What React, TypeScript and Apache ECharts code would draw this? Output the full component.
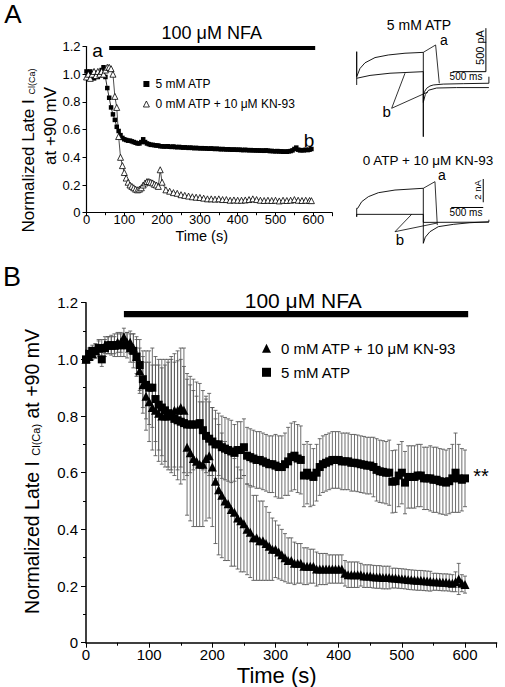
import React, { useEffect, useRef } from "react";
import * as echarts from "echarts";

const FONT = '"Liberation Sans", Arial, Helvetica, sans-serif';

// ---------------- Panel A: single-cell time course ----------------
const timeA_sq = Array.from({ length: 120 }, (_, i) => i * 5); // sampling every 5 s
const atpA = [
  1.02, 0.97, 1.02, 1.0, 0.97, 1.01, 0.98, 1.0, 1.03, 1.05, 0.98, 0.9, 0.83, 0.76, 0.71, 0.67, 0.62, 0.59, 0.56, 0.54,
  0.53, 0.525, 0.52, 0.52, 0.515, 0.51, 0.505, 0.5, 0.5, 0.51, 0.53, 0.51, 0.5, 0.495, 0.49, 0.49, 0.487, 0.485, 0.485, 0.48,
  0.48, 0.478, 0.478, 0.48, 0.476, 0.475, 0.478, 0.474, 0.473, 0.475, 0.472, 0.47, 0.472, 0.47, 0.468, 0.47, 0.468, 0.466, 0.468, 0.466,
  0.465, 0.466, 0.464, 0.465, 0.463, 0.462, 0.464, 0.462, 0.46, 0.462, 0.46, 0.458, 0.46, 0.458, 0.457, 0.458, 0.456, 0.455, 0.456, 0.455,
  0.454, 0.455, 0.453, 0.452, 0.454, 0.452, 0.451, 0.452, 0.45, 0.451, 0.449, 0.45, 0.448, 0.449, 0.447, 0.45, 0.448, 0.445, 0.446, 0.444,
  0.443, 0.445, 0.442, 0.443, 0.44, 0.442, 0.44, 0.443, 0.445, 0.45, 0.46, 0.47, 0.455, 0.45, 0.452, 0.45, 0.455, 0.452, 0.455, 0.46,
];
const timeA_tri = [
  0, 5, 10, 15, 20, 25, 30, 35, 40, 45, 50, 55, 60, 65, 70, 75, 80, 85, 90, 95, 100, 105, 110, 115, 120, 125, 130, 135, 140, 145,
  150, 155, 160, 165, 170, 175, 180, 185, 190, 195, 200, 210, 220, 230, 240, 250, 260, 270, 280, 290, 300, 310, 320, 330, 340,
  350, 360, 370, 380, 390, 400, 410, 420, 430, 440, 450, 460, 470, 480, 490, 500, 510, 520, 530, 540, 550, 560, 570, 580, 590, 595,
];
const kn93A = [
  0.98, 1.0, 0.97, 1.0, 1.02, 0.99, 1.02, 1.0, 1.02, 1.0, 1.03, 1.05, 1.05, 1.04, 1.0, 0.84, 0.76, 0.55, 0.4, 0.34, 0.29, 0.25,
  0.22, 0.2, 0.19, 0.18, 0.17, 0.165, 0.17, 0.18, 0.2, 0.215, 0.225, 0.225, 0.22, 0.215, 0.205, 0.2, 0.19, 0.31, 0.22,
  0.165, 0.155, 0.145, 0.14, 0.13, 0.125, 0.12, 0.115, 0.112, 0.11, 0.105, 0.1, 0.1, 0.098, 0.1, 0.095, 0.095, 0.09, 0.092, 0.09,
  0.09, 0.092, 0.095, 0.1, 0.095, 0.09, 0.088, 0.09, 0.088, 0.09, 0.085, 0.09, 0.088, 0.09, 0.095, 0.09, 0.088, 0.09, 0.088, 0.087,
];

// NFA application period (s)
const nfaStart = 60;
const nfaEnd = 605;

// ---------------- Panel B: mean +/- SEM ----------------
const timeB = Array.from({ length: 121 }, (_, i) => i * 5);
const kn93B = [
  1.0, 1.01, 1.02, 1.03, 1.04, 1.04, 1.05, 1.05, 1.05, 1.05, 1.06, 1.06, 1.08, 1.06, 1.06, 1.04, 1.01, 0.96, 0.91, 0.87,
  0.85, 0.83, 0.82, 0.81, 0.8, 0.8, 0.8, 0.81, 0.82, 0.82, 0.83, 0.82, 0.69, 0.67, 0.65, 0.64, 0.63, 0.63, 0.65, 0.66,
  0.62, 0.57, 0.54, 0.52, 0.5, 0.49, 0.47, 0.46, 0.44, 0.43, 0.42, 0.4, 0.39, 0.37, 0.37, 0.36, 0.36, 0.35, 0.34, 0.33,
  0.33, 0.32, 0.31, 0.3, 0.29, 0.29, 0.28, 0.28, 0.28, 0.27, 0.27, 0.27, 0.27, 0.26, 0.26, 0.26, 0.26, 0.26, 0.26, 0.26,
  0.26, 0.26, 0.245, 0.24, 0.24, 0.24, 0.24, 0.24, 0.235, 0.235, 0.235, 0.233, 0.232, 0.232, 0.23, 0.23, 0.23, 0.228, 0.228, 0.227,
  0.226, 0.225, 0.223, 0.222, 0.221, 0.22, 0.22, 0.219, 0.218, 0.217, 0.215, 0.215, 0.214, 0.213, 0.213, 0.212, 0.21, 0.215, 0.225, 0.21,
  0.205,
];
const kn93B_sem = [
  0, 0.02, 0.02, 0.025, 0.025, 0.03, 0.03, 0.03, 0.03, 0.03, 0.035, 0.035, 0.03, 0.035, 0.04, 0.05, 0.06, 0.08, 0.1, 0.12,
  0.14, 0.15, 0.16, 0.17, 0.17, 0.18, 0.19, 0.2, 0.2, 0.21, 0.21, 0.22, 0.24, 0.24, 0.24, 0.23, 0.22, 0.22, 0.22, 0.22,
  0.21, 0.22, 0.23, 0.22, 0.21, 0.2, 0.2, 0.19, 0.18, 0.18, 0.17, 0.16, 0.16, 0.15, 0.15, 0.14, 0.14, 0.13, 0.12, 0.11,
  0.1, 0.095, 0.09, 0.085, 0.08, 0.08, 0.075, 0.07, 0.07, 0.065, 0.065, 0.06, 0.06, 0.06, 0.055, 0.055, 0.055, 0.05, 0.05, 0.05,
  0.05, 0.05, 0.045, 0.045, 0.045, 0.045, 0.045, 0.04, 0.04, 0.04, 0.04, 0.04, 0.04, 0.04, 0.04, 0.04, 0.04, 0.035, 0.035, 0.035,
  0.035, 0.035, 0.035, 0.035, 0.035, 0.035, 0.035, 0.035, 0.035, 0.035, 0.03, 0.03, 0.03, 0.03, 0.03, 0.03, 0.03, 0.035, 0.055, 0.03,
  0.03,
];
const atpB = [
  1.0, 1.02, 1.03, 1.03, 1.04, 1.0, 1.04, 1.05, 1.05, 1.05, 1.05, 1.05, 1.05, 1.05, 1.04, 1.03, 1.01, 0.98, 0.93, 0.91,
  0.9, 0.9, 0.86, 0.84, 0.83, 0.82, 0.81, 0.8, 0.79, 0.785, 0.78, 0.775, 0.77, 0.77, 0.77, 0.77, 0.775, 0.75, 0.73, 0.72,
  0.71, 0.7, 0.7, 0.69, 0.685, 0.68, 0.675, 0.67, 0.68, 0.68, 0.69, 0.66, 0.655, 0.65, 0.645, 0.645, 0.64, 0.635, 0.63, 0.63,
  0.625, 0.62, 0.62, 0.63, 0.64, 0.655, 0.66, 0.65, 0.645, 0.59, 0.6, 0.59, 0.585, 0.6, 0.62, 0.63, 0.635, 0.64, 0.645, 0.645,
  0.645, 0.64, 0.64, 0.64, 0.635, 0.635, 0.633, 0.63, 0.628, 0.625, 0.625, 0.62, 0.61, 0.605, 0.603, 0.6, 0.6, 0.568, 0.57, 0.59,
  0.6, 0.565, 0.585, 0.585, 0.585, 0.59, 0.59, 0.58, 0.58, 0.58, 0.575, 0.575, 0.57, 0.568, 0.565, 0.57, 0.58, 0.6, 0.58, 0.575,
  0.58,
];
const atpB_sem = [
  0, 0.02, 0.02, 0.025, 0.03, 0.025, 0.03, 0.03, 0.035, 0.04, 0.04, 0.04, 0.04, 0.045, 0.05, 0.06, 0.07, 0.09, 0.1, 0.12,
  0.13, 0.14, 0.15, 0.16, 0.17, 0.18, 0.19, 0.2, 0.2, 0.21, 0.22, 0.2, 0.18, 0.17, 0.16, 0.15, 0.14, 0.14, 0.13, 0.13,
  0.12, 0.12, 0.11, 0.11, 0.11, 0.11, 0.11, 0.1, 0.1, 0.1, 0.1, 0.1, 0.1, 0.1, 0.1, 0.1, 0.1, 0.1, 0.1, 0.1,
  0.11, 0.11, 0.11, 0.11, 0.12, 0.12, 0.12, 0.12, 0.12, 0.11, 0.11, 0.11, 0.1, 0.1, 0.1, 0.1, 0.1, 0.1, 0.1, 0.1,
  0.1, 0.1, 0.1, 0.1, 0.1, 0.1, 0.1, 0.1, 0.1, 0.1, 0.1, 0.105, 0.11, 0.11, 0.11, 0.11, 0.115, 0.11, 0.11, 0.11,
  0.11, 0.11, 0.11, 0.11, 0.11, 0.11, 0.11, 0.11, 0.11, 0.115, 0.115, 0.115, 0.115, 0.115, 0.115, 0.115, 0.12, 0.14, 0.12, 0.11,
  0.1,
];

// ---------------- Current traces (ms, pA) ----------------
// 5 mM ATP
const tr1a_t = [0, 0, 0, 50, 125, 275, 475, 725, 1000, 1000, 1000, 1020, 1050, 1100, 1150, 1300, 1600, 1985, 1985];
const tr1a_pA = [0, 383, 95, 190, 255, 315, 345, 365, 375, -595, -115, -75, -38, -12, 0, 10, 15, 20, 95];
const tr1b_t = [0, 200, 500, 1000, 1000, 1030, 1080, 1200, 1500, 1985];
const tr1b_pA = [77, 110, 135, 153, -200, -110, -60, -35, -30, -30];
const tr1PtrA_t = [1000, 1185, 1240];
const tr1PtrA_pA = [375, 460, 20];
const tr1PtrB_t = [725, 525, 1070];
const tr1PtrB_pA = [135, -268, -80];
const tr1Scale_t = [1440, 1940, 1940];
const tr1Scale_pA = [153, 153, 653];
// 0 ATP + 10 uM KN-93
const tr2a_t = [0, 0, 15, 75, 175, 325, 575, 1000, 1000, 1030, 1100, 1225, 1450, 1700, 1985, 1985];
const tr2a_pA = [455, 1180, 1180, 1750, 2180, 2520, 2750, 2900, -1830, -1300, -830, -400, -200, -60, 20, 200];
const tr2b_t = [0, 0, 1000, 1000, 1985];
const tr2b_pA = [455, 660, 660, -30, -10];
const tr2PtrA_t = [1000, 1175, 1210];
const tr2PtrA_pA = [2900, 3470, -260];
const tr2PtrB_t = [825, 575, 1205];
const tr2PtrB_pA = [660, -830, -90];
const tr2ScaleH_t = [1420, 1900];
const tr2ScaleH_pA = [1250, 1250];
const tr2ScaleV_t = [1900, 1900];
const tr2ScaleV_pA = [1700, 3700];

const pairs = (xs: number[], ys: number[]) => xs.map((x, i) => [x, ys[i]]);
const triples = (xs: number[], ys: number[], es: number[]) => xs.map((x, i) => [x, ys[i], es[i]]);

const txt = (text: string, x: number, y: number, fontSize: number, extra: any = {}, lh?: number) => ({
  type: "text",
  x,
  y,
  silent: true,
  ...extra,
  style: {
    text,
    fontSize,
    lineHeight: lh ?? Math.round(fontSize * 0.9),
    fontFamily: FONT,
    fill: "#000",
    align: "center",
    verticalAlign: "middle",
  },
});

const yFmt = (v: number) => (Math.abs(v) < 1e-9 ? "0" : v.toFixed(1));

const errorBarRender = (params: any, api: any) => {
  const t = api.value(0);
  const m = api.value(1);
  const s = api.value(2);
  const hi = api.coord([t, m + s]);
  const lo = api.coord([t, m - s]);
  const w = 2;
  const st = { stroke: "#555", lineWidth: 0.85 };
  return {
    type: "group",
    children: [
      { type: "line", shape: { x1: hi[0], y1: hi[1], x2: lo[0], y2: lo[1] }, style: st },
      { type: "line", shape: { x1: hi[0] - w, y1: hi[1], x2: hi[0] + w, y2: hi[1] }, style: st },
      { type: "line", shape: { x1: lo[0] - w, y1: lo[1], x2: lo[0] + w, y2: lo[1] }, style: st },
    ],
  };
};

const traceLine = (name: string, xi: number, data: number[][], width = 0.9) => ({
  type: "line",
  name,
  xAxisIndex: xi,
  yAxisIndex: xi,
  data,
  symbol: "none",
  clip: false,
  silent: true,
  lineStyle: { color: "#000", width },
});

export default function App() {
  const ref = useRef<HTMLDivElement>(null);
  useEffect(() => {
    if (!ref.current) return;
    const chart = echarts.init(ref.current, undefined, { renderer: "svg" });
    const axisCommon = {
      type: "value",
      splitLine: { show: false },
      axisLine: { show: true, onZero: false, lineStyle: { color: "#000", width: 1.2 } },
      axisTick: { show: true, inside: false, lineStyle: { color: "#000", width: 1 } },
    };
    const hidden = { type: "value", show: false, splitLine: { show: false } };

    const option: any = {
      animation: false,
      textStyle: { fontFamily: FONT },
      grid: [
        { left: 86.5, top: 46.5, width: 245.7, height: 166.2 },
        { left: 86, top: 302.7, width: 410.6, height: 340 },
        { left: 356.7, top: 24.1, width: 133.2, height: 117.4 },
        { left: 356.7, top: 175.5, width: 133.2, height: 69.8 },
      ],
      xAxis: [
        {
          ...axisCommon,
          gridIndex: 0,
          min: 0,
          max: 650,
          interval: 100,
          axisTick: { ...axisCommon.axisTick, length: 3.5 },
          minorTick: { show: true, splitNumber: 2, length: 2.5, lineStyle: { color: "#000" } },
          axisLabel: { color: "#000", fontSize: 13, lineHeight: 12, margin: 1, fontFamily: FONT, showMaxLabel: false },
        },
        {
          ...axisCommon,
          gridIndex: 1,
          min: 0,
          max: 650,
          interval: 100,
          axisLine: { ...axisCommon.axisLine, lineStyle: { color: "#000", width: 1.5 } },
          axisTick: { ...axisCommon.axisTick, length: 5 },
          minorTick: { show: true, splitNumber: 2, length: 3, lineStyle: { color: "#000" } },
          axisLabel: { color: "#000", fontSize: 15, lineHeight: 14, margin: 5, fontFamily: FONT, showMaxLabel: false },
        },
        { ...hidden, gridIndex: 2, min: 0, max: 2000 },
        { ...hidden, gridIndex: 3, min: 0, max: 2000 },
      ],
      yAxis: [
        {
          ...axisCommon,
          gridIndex: 0,
          min: 0,
          max: 1.2,
          interval: 0.2,
          axisTick: { ...axisCommon.axisTick, length: 4 },
          axisLabel: { color: "#000", fontSize: 13, lineHeight: 12, margin: 6, fontFamily: FONT, formatter: yFmt },
        },
        {
          ...axisCommon,
          gridIndex: 1,
          min: 0,
          max: 1.2,
          interval: 0.2,
          axisLine: { ...axisCommon.axisLine, lineStyle: { color: "#000", width: 1.5 } },
          axisTick: { ...axisCommon.axisTick, length: 5 },
          minorTick: { show: true, splitNumber: 2, length: 3, lineStyle: { color: "#000" } },
          axisLabel: { color: "#000", fontSize: 15, lineHeight: 14, margin: 8, fontFamily: FONT, formatter: yFmt },
        },
        { ...hidden, gridIndex: 2, min: -650, max: 700 },
        { ...hidden, gridIndex: 3, min: -2000, max: 4000 },
      ],
      legend: [
        {
          data: [
            { name: "5 mM ATP", icon: "rect", itemStyle: { color: "#000" } },
            {
              name: "0 mM ATP + 10 μM KN-93",
              icon: "triangle",
              itemStyle: { color: "#fff", borderColor: "#000", borderWidth: 0.8 },
            },
          ],
          orient: "vertical",
          left: 138,
          top: 73,
          itemWidth: 6,
          itemHeight: 6,
          itemGap: 8,
          selectedMode: false,
          formatter: (n: string) => n.trim(),
          textStyle: { fontSize: 12, lineHeight: 12, color: "#000", fontFamily: FONT, padding: [0, 0, 0, 1] },
        },
        {
          data: [
            { name: "0 mM ATP + 10 μM KN-93 ", icon: "triangle", itemStyle: { color: "#000" } },
            { name: "5 mM ATP ", icon: "rect", itemStyle: { color: "#000" } },
          ],
          orient: "vertical",
          left: 257,
          top: 335.8,
          itemWidth: 9,
          itemHeight: 9,
          itemGap: 9,
          selectedMode: false,
          formatter: (n: string) => n.trim(),
          textStyle: { fontSize: 15, lineHeight: 15, color: "#000", fontFamily: FONT, padding: [0, 0, 0, 5] },
        },
      ],
      series: [
        // Panel A
        {
          type: "line",
          name: "nfaA",
          xAxisIndex: 0,
          yAxisIndex: 0,
          data: [
            [nfaStart, 1.19],
            [nfaEnd, 1.19],
          ],
          symbol: "none",
          clip: false,
          silent: true,
          lineStyle: { color: "#000", width: 4 },
        },
        {
          type: "line",
          name: "5 mM ATP",
          xAxisIndex: 0,
          yAxisIndex: 0,
          data: pairs(timeA_sq, atpA),
          symbol: "rect",
          symbolSize: 4.5,
          showAllSymbol: true,
          itemStyle: { color: "#000" },
          lineStyle: { color: "#000", width: 0.8 },
          z: 3,
        },
        {
          type: "line",
          name: "0 mM ATP + 10 μM KN-93",
          xAxisIndex: 0,
          yAxisIndex: 0,
          data: pairs(timeA_tri, kn93A),
          symbol: "triangle",
          symbolSize: 6,
          showAllSymbol: true,
          itemStyle: { color: "#fff", borderColor: "#000", borderWidth: 0.8 },
          lineStyle: { color: "#000", width: 0.7 },
          z: 4,
        },
        // Panel B
        {
          type: "line",
          name: "nfaB",
          xAxisIndex: 1,
          yAxisIndex: 1,
          data: [
            [nfaStart, 1.16],
            [nfaEnd, 1.16],
          ],
          symbol: "none",
          clip: false,
          silent: true,
          lineStyle: { color: "#000", width: 6.3 },
        },
        {
          type: "custom",
          name: "semKN",
          xAxisIndex: 1,
          yAxisIndex: 1,
          data: triples(timeB, kn93B, kn93B_sem),
          encode: { x: 0, y: 1 },
          renderItem: errorBarRender,
          silent: true,
          z: 1,
        },
        {
          type: "custom",
          name: "semATP",
          xAxisIndex: 1,
          yAxisIndex: 1,
          data: triples(timeB, atpB, atpB_sem),
          encode: { x: 0, y: 1 },
          renderItem: errorBarRender,
          silent: true,
          z: 1,
        },
        {
          type: "scatter",
          name: "5 mM ATP ",
          xAxisIndex: 1,
          yAxisIndex: 1,
          data: pairs(timeB, atpB),
          symbol: "rect",
          symbolSize: 8,
          itemStyle: { color: "#000", opacity: 1 },
          z: 3,
        },
        {
          type: "scatter",
          name: "0 mM ATP + 10 μM KN-93 ",
          xAxisIndex: 1,
          yAxisIndex: 1,
          data: pairs(timeB, kn93B),
          symbol: "triangle",
          symbolSize: 9,
          itemStyle: { color: "#000", opacity: 1 },
          z: 4,
        },
        // Traces
        traceLine("tr1a", 2, pairs(tr1a_t, tr1a_pA)),
        traceLine("tr1b", 2, pairs(tr1b_t, tr1b_pA)),
        traceLine("tr1pa", 2, pairs(tr1PtrA_t, tr1PtrA_pA), 0.8),
        traceLine("tr1pb", 2, pairs(tr1PtrB_t, tr1PtrB_pA), 0.8),
        traceLine("tr1s", 2, pairs(tr1Scale_t, tr1Scale_pA), 1),
        traceLine("tr2a", 3, pairs(tr2a_t, tr2a_pA)),
        traceLine("tr2b", 3, pairs(tr2b_t, tr2b_pA)),
        traceLine("tr2pa", 3, pairs(tr2PtrA_t, tr2PtrA_pA), 0.8),
        traceLine("tr2pb", 3, pairs(tr2PtrB_t, tr2PtrB_pA), 0.8),
        traceLine("tr2sh", 3, pairs(tr2ScaleH_t, tr2ScaleH_pA), 1),
        traceLine("tr2sv", 3, pairs(tr2ScaleV_t, tr2ScaleV_pA), 1),
      ],
      graphic: [
        txt("A", 13, 14, 26),
        txt("B", 12, 277, 27),
        txt("100 μM NFA", 211.7, 33, 18),
        txt("100 μM NFA", 303.3, 300, 21, {}, 17),
        txt("a", 97.5, 50.5, 19, {}, 14),
        txt("b", 309, 140, 19, {}, 16),
        txt("Time (s)", 201.7, 235.5, 14.5, {}, 12),
        txt("Time (s)", 276.7, 675.5, 22, {}, 19),
        {
          type: "text",
          x: 28,
          y: 150.5,
          rotation: Math.PI / 2,
          silent: true,
          style: {
            text: "{m|Normalized Late I }{s|Cl(Ca)}",
            align: "center",
            verticalAlign: "middle",
            fill: "#000",
            rich: {
              m: { fontSize: 17, lineHeight: 17, fontFamily: FONT, fill: "#000" },
              s: { fontSize: 9, lineHeight: 17, fontFamily: FONT, fill: "#000", verticalAlign: "bottom" },
            },
          },
        },
        txt("at +90 mV", 50, 126, 17, { rotation: Math.PI / 2 }, 16),
        {
          type: "text",
          x: 31.7,
          y: 471.5,
          rotation: Math.PI / 2,
          silent: true,
          style: {
            text: "{m|Normalized Late I }{s|Cl(Ca)}{m| at +90 mV}",
            align: "center",
            verticalAlign: "middle",
            fill: "#000",
            rich: {
              m: { fontSize: 19.5, lineHeight: 19.5, fontFamily: FONT, fill: "#000" },
              s: { fontSize: 11, lineHeight: 19.5, fontFamily: FONT, fill: "#000", verticalAlign: "bottom" },
            },
          },
        },
        txt("**", 481, 475.5, 20),
        txt("5 mM ATP", 419, 24.5, 14, {}, 12),
        txt("0 ATP + 10 μM KN-93", 428, 160, 13.5, {}, 12),
        txt("a", 444, 40, 14, {}, 10),
        txt("b", 386.7, 111, 15, {}, 12),
        txt("a", 442, 175, 14, {}, 10),
        txt("b", 400, 239, 15, {}, 12),
        txt("500 pA", 480, 47.5, 11, { rotation: Math.PI / 2 }, 9),
        txt("500 ms", 466, 76.5, 10, {}, 8),
        txt("2 nA", 477, 190, 9.5, { rotation: Math.PI / 2 }, 8),
        txt("500 ms", 466, 212.5, 10, {}, 8),
      ],
    };
    chart.setOption(option);
    return () => chart.dispose();
  }, []);
  return <div ref={ref} style={{ position: "fixed", left: 0, top: 0, width: 505, height: 687, background: "#fff" }} />;
}
